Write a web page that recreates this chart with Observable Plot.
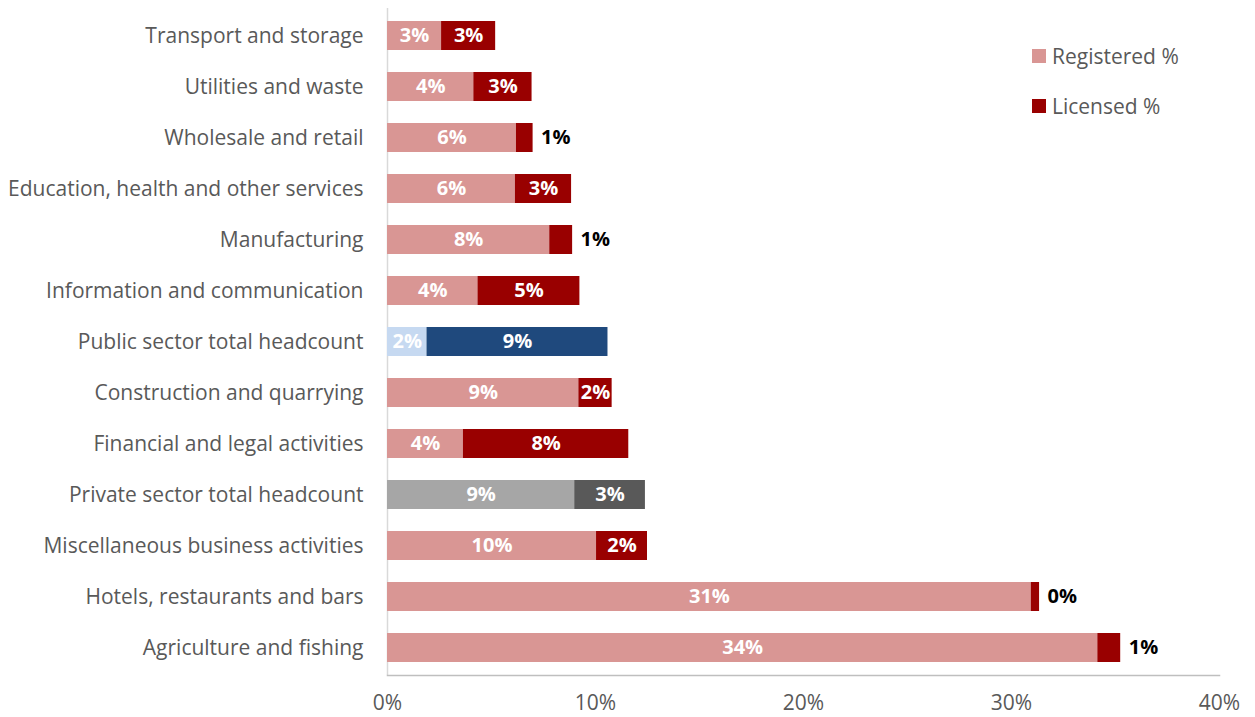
<!DOCTYPE html>
<html><head><meta charset="utf-8">
<script src="https://cdn.jsdelivr.net/npm/d3@7"></script>
<script src="https://cdn.jsdelivr.net/npm/@observablehq/plot@0.6"></script>
<style>
body{margin:0;background:#fff;font-family:"Open Sans",sans-serif}
#wrap{position:relative;width:1255px;height:717px}
.leg{position:absolute;left:1032px;font-size:21px;color:#595959;display:flex;align-items:center;height:20px;font-family:"Open Sans",sans-serif}
.leg .sw{width:14px;height:14px;margin-right:6px;display:inline-block}
</style></head><body>
<div id="wrap"></div>
<script>
const categories = [
  "Transport and storage",
  "Utilities and waste",
  "Wholesale and retail",
  "Education, health and other services",
  "Manufacturing",
  "Information and communication",
  "Public sector total headcount",
  "Construction and quarrying",
  "Financial and legal activities",
  "Private sector total headcount",
  "Miscellaneous business activities",
  "Hotels, restaurants and bars",
  "Agriculture and fishing"
];
const registered = [2.6, 4.15, 6.2, 6.15, 7.8, 4.35, 1.9, 9.2, 3.65, 9.0, 10.05, 30.95, 34.15];
const licensed   = [2.6, 2.8, 0.8, 2.7, 1.1, 4.9, 8.7, 1.6, 7.95, 3.4, 2.45, 0.4, 1.1];
const groups     = ["industry","industry","industry","industry","industry","industry","public","industry","industry","private","industry","industry","industry"];
const xTicks = [0, 10, 20, 30, 40];
const legendLabels = ["Registered %", "Licensed %"];

const regColor = {industry: "#D99694", public: "#C6D9F1", private: "#A6A6A6"};
const licColor = {industry: "#990000", public: "#1F497D", private: "#595959"};

const rows = categories.map((c, i) => ({cat: c, reg: registered[i], lic: licensed[i], group: groups[i]}));
const pct = v => Math.round(v) + "%";

const chart = Plot.plot({
  width: 1255,
  height: 717,
  marginLeft: 387,
  marginRight: 36,
  marginTop: 8,
  marginBottom: 42,
  style: {fontFamily: "'Open Sans', sans-serif", color: "#595959", background: "#fff"},
  x: {domain: [0, 40], ticks: xTicks, tickFormat: d => d + "%"},
  y: {domain: categories, paddingInner: 0.44, paddingOuter: 0.227},
  marks: [
    Plot.ruleX([0], {stroke: "#d9d9d9", strokeWidth: 1.5}),
    Plot.barX(rows, {y: "cat", x1: 0, x2: "reg", fill: d => regColor[d.group]}),
    Plot.barX(rows, {y: "cat", x1: "reg", x2: d => d.reg + d.lic, fill: d => licColor[d.group]}),
    Plot.frame({anchor: "bottom", stroke: "#bfbfbf", strokeWidth: 1.5}),
    Plot.text(rows, {y: "cat", x: d => d.reg / 2, text: d => pct(d.reg), fill: "white", fontWeight: "bold", fontSize: 20}),
    Plot.text(rows.filter(d => d.lic >= 1.5), {y: "cat", x: d => d.reg + d.lic / 2, text: d => pct(d.lic), fill: "white", fontWeight: "bold", fontSize: 20}),
    Plot.text(rows.filter(d => d.lic < 1.5), {y: "cat", x: d => d.reg + d.lic, dx: 8, textAnchor: "start", text: d => pct(d.lic), fill: "black", fontWeight: "bold", fontSize: 20}),
    Plot.axisY({tickSize: 0, tickPadding: 24, fontSize: 21, label: null}),
    Plot.axisX({tickSize: 0, tickPadding: 20, fontSize: 21, label: null, ticks: xTicks, tickFormat: d => d + "%"})
  ]
});
const wrap = document.getElementById("wrap");
wrap.appendChild(chart);
[[legendLabels[0], regColor.industry, 46], [legendLabels[1], licColor.industry, 96]].forEach(([t, c, top]) => {
  const d = document.createElement("div");
  d.className = "leg";
  d.style.top = top + "px";
  const s = document.createElement("span");
  s.className = "sw"; s.style.background = c;
  d.appendChild(s);
  d.appendChild(document.createTextNode(t));
  wrap.appendChild(d);
});
</script>
</body></html>
